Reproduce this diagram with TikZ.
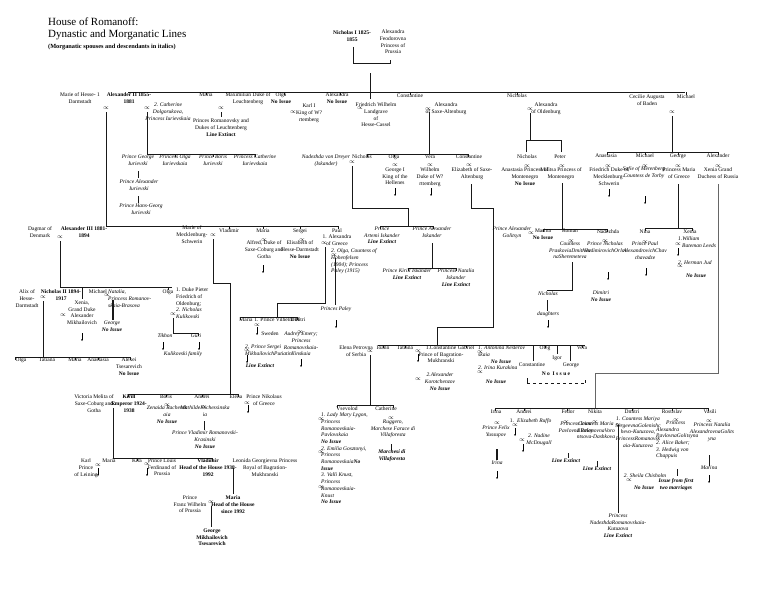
\documentclass[tikz,border=0pt]{standalone}
\usepackage{fontspec}
\setmainfont{Liberation Serif}
\usepackage{tikz}
\usetikzlibrary{arrows.meta}

\newcommand{\fs}{\fontsize{5.5}{6.7}\selectfont}
\newcommand{\mg}{$\propto$}

\tikzset{
  lbl/.style={anchor=north, yshift=2.4pt, inner sep=0pt, align=center, font=\fs},
  it/.style={lbl, font=\fs\itshape},
  bd/.style={lbl, font=\fs\bfseries},
  bi/.style={lbl, font=\fs\bfseries\itshape},
  itl/.style={it, anchor=north west, align=left},
  lbll/.style={lbl, anchor=north west, align=left},
  ttl/.style={anchor=west, inner sep=0pt, font=\fontsize{11}{13}\selectfont},
  mar/.style={inner sep=0pt, font=\fontsize{6.5}{6.5}\selectfont},
  dn/.style={-{Stealth[length=1.8pt,width=1.8pt]}, line width=0.4pt},
  ln/.style={line width=0.7pt, black!90},
}

\begin{document}
\begin{tikzpicture}[x=1pt, y=-1pt]
  \useasboundingbox (0,0) rectangle (768,594);

  % title
  \node[ttl] (title1) at (48,22) {House of Romanoff:};
  \node[ttl] (title2) at (48,35) {Dynastic and Morganatic Lines};
  \node[ttl, font=\fontsize{6.3}{7}\selectfont\bfseries] (title3) at (48,47)
    {(Morganatic spouses and descendants in italics)};

  % Nicholas I
  \node[bd] (nichI) at (352,33) {Nicholas I 1825-\\1855};
  \node[lbl] (alexF) at (393,32) {Alexandra\\Feodorovna\\Princess of\\Prussia};
  \draw[ln] (353,47) -- (353,63) -- (390,63) -- (390,60);
  \draw[ln] (370,73) -- (370,99);
  \draw[ln] (128,92) -- (685,92);

  % children of Nicholas I
  \node[lbl] (marieH) at (80,95) {Marie of Hesse- 1\\Darmstadt};
  \node[bd] (alexII) at (129,95) {Alexander II 1855-\\1881};
  \node[it] (cathD) at (168,105) {2. Catherine\\Dolgorukova,\\Princess Iurievskaia};
  \node[lbl] (mariaN) at (206,95) {Maria};
  \node[lbl] (maxL) at (248,95) {Maximilian Duke of\\Leuchtenberg};
  \node[lbl] (olgaN) at (281,95) {Olga\\\textbf{No Issue}};
  \node[lbl] (karl) at (309,106) {Karl I\\King of W?\\rtemberg};
  \node[lbl] (alexN) at (337,95) {Alexandra\\\textbf{No Issue}};
  \node[lbl] (friedW) at (376,105) {Friedrich Wilhelm\\Landgrave\\of\\Hesse-Cassel};
  \node[lbl] (constN) at (410,96) {Constantine};
  \node[lbl] (alexSA) at (446,105) {Alexandra\\of Saxe-Altenburg};
  \node[lbl] (nichN) at (517,96) {Nicholas};
  \node[lbl] (alexO) at (546,105) {Alexandra\\of Oldenburg};
  \node[lbl] (cecilie) at (647,97) {Cecilie Augusta\\of Baden};
  \node[lbl] (michN) at (686,97) {Michael};

  % Leuchtenberg
  \draw[ln] (221,112) -- (221,117);
  \node[lbl] (romLeu) at (221,121) {Princes Romanovsky and\\Dukes of Leuchtenberg\\\textbf{Line Extinct}};

  % Iurievsky
  \draw[ln] (106,112) -- (106,226);
  \draw[ln] (147,112) -- (147,154) -- (255,154);
  \node[it] (georgeI) at (138,157) {Prince George\\Iurievski};
  \node[it] (olgaI) at (175,157) {Princess Olga\\Iurievskaia};
  \node[it] (borisI) at (213,157) {Prince Boris\\Iurievski};
  \node[it] (cathI) at (255,157) {Princess Catherine\\Iurievskaia};
  \draw[ln] (138,171) -- (138,178);
  \node[it] (alexI) at (139,182) {Prince Alexander\\Iurievski};
  \draw[ln] (138,196) -- (138,203);
  \node[it] (hansI) at (141,206) {Prince Hans-Georg\\Iurievski};

  % Constantine Nikolaevich
  \draw[ln, line width=1pt] (429,112) -- (429,154);
  \draw[ln] (367,154) -- (468,154);
  \node[it] (nadD) at (326,157) {Nadezhda von Dreyer\\(Iskander)};
  \node[lbl] (nichK) at (362,157) {Nicholas};
  \node[lbl] (olgaK) at (394,157) {Olga};
  \node[lbl] (veraK) at (430,157) {Vera};
  \node[lbl] (constK) at (469,157) {Constantine};
  \node[lbl] (georgeG) at (395,170) {George I\\King of the\\Hellenes};
  \node[lbl] (wilhW) at (430,170) {Wilhelm\\Duke of W?\\rttemberg};
  \node[lbl] (elizSA) at (472,170) {Elizabeth of Saxe-\\Altenburg};
  \draw[ln] (471,184) -- (471,208) -- (493,208) -- (493,327) -- (437,327) -- (437,345);

  % Iskander
  \draw[ln] (352,166) -- (352,208) -- (408,208) -- (408,226);
  \draw[ln] (380,226) -- (433,226);
  \node[it] (artemi) at (382,229) {Prince\\Artemi Iskander\\\textbf{Line Extinct}};
  \node[it] (alexIsk) at (432,229) {Prince Alexander\\Iskander};
  \draw[ln] (432,243) -- (432,268);
  \draw[ln] (408,268) -- (456,268);
  \node[it] (kirIsk) at (407,271) {Prince Kirill Iskander\\\textbf{Line Extinct}};
  \node[it] (natIsk) at (456,271) {Princess Natalia\\Iskander\\\textbf{Line Extinct}};

  % Nicholas Nikolaevich
  \draw[ln, line width=1pt] (530,113) -- (530,140);
  \draw[ln] (526,152) -- (526,140) -- (561,140) -- (561,152);
  \node[lbl] (nichNN) at (527,157) {Nicholas};
  \node[lbl] (peterN) at (560,157) {Peter};
  \node[lbl] (anast) at (525,170) {Anastasia Princess of\\Montenegro\\\textbf{No Issue}};
  \node[lbl] (militsa) at (561,170) {Militsa Princess of\\Montenegro};
  \draw[ln] (562,183) -- (562,229);
  \draw[ln] (543,229) -- (607,229);
  \node[it] (alexGol) at (512,229) {Prince Alexander\\Golitsyn};
  \node[lbl] (marinaP) at (543,231) {Marina\\\textbf{No Issue}};
  \node[lbl] (romanP) at (570,231) {Roman};
  \node[lbl] (nadP) at (608,232) {Nadezhda};
  \node[it] (prask) at (570,244) {Countess\\PraskoviaDmitriev\\naSheremeteva};
  \node[it] (orlov) at (605,244) {Prince Nicholas\\VladimirovichOrlov};
  \draw[ln] (572,262) -- (572,290) -- (547,290);
  \node[it] (nichR) at (548,294) {Nicholas};
  \node[it] (dimR) at (601,293) {Dimitri\\\textbf{No Issue}};
  \draw[ln] (547,300) -- (547,311);
  \node[it] (daught) at (548,314) {daughters};

  % Michael Nikolaevich
  \draw[ln] (672,116) -- (672,152);
  \draw[ln] (607,152) -- (718,152);
  \node[lbl] (anastM) at (606,156) {Anastasia};
  \node[lbl] (michM) at (645,156) {Michael};
  \node[lbl] (georgeM) at (678,156) {George};
  \node[lbl] (alexM) at (718,156) {Alexander};
  \node[lbl] (friedMS) at (609,170) {Friedrich Duke of\\Mecklenburg-\\Schwerin};
  \node[it] (sofie) at (644,169) {Sofie of Merenberg\\Countess de Torby};
  \node[lbl] (mariaG) at (679,170) {Princess Maria\\of Greece};
  \node[lbl] (xeniaA) at (718,170) {Xenia Grand\\Duchess of Russia};
  \draw[ln] (678,184) -- (678,228);
  \draw[ln] (645,228) -- (692,228);
  \node[lbl] (nina) at (645,232) {Nina};
  \node[lbl] (xeniaG) at (690,232) {Xenia};
  \node[it] (paulC) at (645,244) {Prince Paul\\AlexandrovichChav\\chavadze};
  \node[itl] (leeds) at (678,239) {1.William\\\hspace*{4pt}Bateman Leeds};
  \node[itl] (jud) at (678,263) {2. Herman Jud};
  \node[bi] (noIssX) at (696,276) {No Issue};
  \draw[ln, black!60, line width=1pt] (718,184) -- (718,373) -- (595,373) -- (595,408);

  % Alexander II's children
  \draw[ln] (106,226) -- (338,226);
  \node[lbl] (dagmar) at (40,229) {Dagmar of\\Denmark};
  \node[bd] (alexIII) at (84,229) {Alexander III 1881-\\1894};
  \node[lbl] (marieM) at (192,228) {Marie of\\Mecklenburg-\\Schwerin};
  \node[lbl] (vladA) at (229,231) {Vladimir};
  \node[lbl] (mariaA) at (263,231) {Maria};
  \node[lbl] (sergeiA) at (300,231) {Sergei};
  \node[lbl] (paulA) at (337,231) {Paul};
  \node[lbl] (alfred) at (264,243) {Alfred, Duke of\\Saxe-Coburg and\\Gotha};
  \node[lbl] (elisH) at (300,243) {Elisabeth of\\Hesse-Darmstadt\\\textbf{No Issue}};
  \node[lbl] (alexGr) at (337,237) {1. Alexandra\\of Greece};
  \node[itl] (olgaP) at (331,251) {2. Olga, Countess of\\Hohenfelsen\\(1904); Princess\\Paley (1915)};
  \draw[ln] (335,258) -- (335,305);
  \node[it] (princesP) at (336,309) {Princes Paley};

  % Paul's first marriage
  \draw[ln] (325,247) -- (325,303) -- (277,303) -- (277,317);
  \draw[ln] (240,317) -- (297,317);
  \node[lbl] (mariaP) at (246,320) {Maria};
  \node[lbl] (vilh) at (277,320) {1. Prince Vilhelm of};
  \node[lbl] (dmitriP) at (298,320) {Dmitri};
  \node[lbl] (sweden) at (270,334) {Sweden};
  \node[itl] (putiatin) at (245,347) {2. Prince Sergei\\MikhailovichPutiatin};
  \node[bi] (lineExtP) at (260,366) {Line Extinct};
  \node[it] (audrey) at (301,334) {Audrey Emery;\\Princess\\Romanovskaia-\\Ilinskaia};

  % Alexander III
  \draw[ln] (60,241) -- (60,287) -- (172,287);
  \node[lbl] (alix) at (27,292) {Alix of\\Hesse-\\Darmstadt};
  \node[bd] (nichII) at (61,292) {Nicholas II 1894-\\1917};
  \node[lbl] (michIII) at (98,292) {Michael};
  \node[itl] (natalia) at (108,292) {Natalia,\\Princess Romanov-\\skaia-Brasova};
  \node[lbl] (olgaIII) at (168,292) {Olga};
  \node[lbll] (duke) at (176,290) {1. Duke Pieter\\Friedrich of\\Oldenburg;\\\textit{2. Nicholas}\\\textit{Kulikovski}};
  \draw[ln] (82,287) -- (82,299);
  \node[lbl] (xeniaIII) at (82,303) {Xenia,\\Grand Duke\\Alexander\\Mikhailovich};
  \draw[ln, line width=1.1pt] (113,300) -- (113,320);
  \node[it] (georgeB) at (112,323) {George\\\textbf{No Issue}};
  \draw[ln] (43,301) -- (43,357);
  \draw[ln] (15,357) -- (130,357);
  \node[lbl] (olgaII) at (21,360) {Olga};
  \node[lbl] (tatII) at (47,360) {Tatiana};
  \node[lbl] (mariaII) at (75,360) {Maria};
  \node[lbl] (anastII) at (98,360) {Anastasia};
  \node[lbl] (alexei) at (129,360) {Alexei\\Tsesarevich\\\textbf{No Issue}};
  \draw[ln] (173,318) -- (173,333) -- (198,333);
  \node[it] (tikhon) at (165,336) {Tikhon};
  \node[it] (guri) at (196,336) {Guri};
  \node[it] (kulfam) at (183,354) {Kulikovski family};

  % Vladimir Alexandrovich
  \draw[ln] (213,239) -- (213,283) -- (230,283) -- (230,394);
  \draw[ln] (128,394) -- (238,394);
  \node[lbl] (victoria) at (94,397) {Victoria Melita of\\Saxe-Coburg and\\Gotha};
  \node[bd] (kirill) at (129,397) {Kirill\\Emperor 1924-\\1938};
  \node[lbl] (borisV) at (166,397) {Boris};
  \node[lbl] (andreiV) at (202,397) {Andrei};
  \node[lbl] (elenaV) at (236,397) {Elena};
  \node[lbl] (nikolaus) at (264,397) {Prince Nikolaus\\of Greece};
  \node[it] (zenaida) at (167,408) {Zenaida Rachevsk\\aia\\\textbf{No Issue}};
  \node[it] (mathilde) at (205,408) {MathildeKschessinska\\ia};
  \draw[ln] (204,421) -- (204,430);
  \node[it] (vladRK) at (205,433) {Prince Vladimir Romanovski-\\Krasinski\\\textbf{No Issue}};

  % Kirill
  \draw[ln] (113,408) -- (113,458) -- (212,458);
  \node[lbl] (karlL) at (86,461) {Karl\\Prince\\of Leining};
  \node[lbl] (mariaK) at (109,461) {Maria};
  \node[lbl] (kira) at (137,461) {Kira};
  \node[lbl] (louis) at (162,461) {Prince Louis\\Ferdinand of\\Prussia};
  \node[bd] (vladK) at (208,461) {Vladimir\\Head of the House 1938-\\1992};
  \node[lbl] (leonida) at (265,461) {Leonida Georgievna Princess\\Royal of Bagration-\\Mukhranski};
  \draw[ln] (233,468) -- (233,494);
  \node[bd] (mariaV) at (233,498) {Maria\\Head of the House\\since 1992};
  \node[lbl] (franz) at (190,498) {Prince\\Franz Wilhelm\\of Prussia};
  \draw[ln] (211,506) -- (211,527);
  \node[bd] (georgeT) at (212,531) {George\\Mikhailovich\\Tsesarevich};

  % Constantine Konstantinovich
  \draw[ln] (378,345) -- (585,345);
  \node[lbl] (elenaS) at (356,348) {Elena Petrovna\\of Serbia};
  \node[lbl] (ioann) at (383,348) {Ioann};
  \node[lbl] (tatK) at (405,348) {Tatiana};
  \node[lbl] (const1) at (441,348) {1.Constantine\\Prince of Bagration-\\Mukhranski};
  \node[it] (alexKor) at (440,375) {2.Alexander\\Korotchenzov\\\textbf{No Issue}};
  \node[lbl] (gabriel) at (466,348) {Gabriel};
  \node[itl] (antonina) at (478,348) {1. Antonina Nesterov\\skaia};
  \node[bi] (noIssA) at (501,362) {No Issue};
  \node[itl] (irinaK) at (478,368) {2. Irina Kurakina};
  \node[bi] (noIssI) at (496,382) {No Issue};
  \draw[ln] (533,345) -- (533,361);
  \draw[ln] (557,345) -- (557,354);
  \draw[ln] (570,345) -- (570,361);
  \node[lbl] (olegC) at (545,348) {Oleg};
  \node[lbl] (veraC) at (582,348) {Vera};
  \node[lbl] (igorC) at (557,358) {Igor};
  \node[lbl] (constC) at (532,365) {Constantine};
  \node[lbl] (georgeC) at (571,365) {George};
  \node[bd] (noIssC) at (556,374) {N o\ \ I s s u e};
  \draw[ln] (527,378) -- (527,383);
  \draw[ln, dashed, line width=0.8pt] (527,383) -- (585,383);
  \draw[ln] (585,380) -- (585,383);

  % Ioann's children
  \draw[ln] (370,355) -- (370,405);
  \draw[ln] (337,405) -- (393,405);
  \node[lbl] (vsev) at (347,409) {Vsevolod};
  \node[lbl] (cathC) at (386,409) {Catherine};
  \node[itl] (vsevSp) at (321,415) {1. Lady Mary Lygon,\\Princess\\Romanovskaia-\\Pavlovskaia\\\textbf{No Issue}\\2. Emilia Gosztonyi,\\Princess\\Romanovskaia\textbf{No}\\\textbf{Issue}\\3. Valli Knust,\\Princess\\Romanovskaia-\\Knust\\\textbf{No Issue}};
  \node[it] (ruggero) at (393,422) {Ruggero,\\Marchese Farace di\\Villaforesta};
  \draw[ln] (391,444) -- (391,450);
  \node[bi] (marchesi) at (392,452) {Marchesi di\\Villaforesta};

  % Xenia Alexandrovna's children
  \draw[ln] (495,408) -- (708,408);
  \node[lbl] (irinaX) at (496,412) {Irina};
  \node[lbl] (andreiX) at (524,412) {Andrei};
  \node[lbl] (fedorX) at (568,412) {Fedor};
  \node[lbl] (nikitaX) at (595,412) {Nikita};
  \node[lbl] (dmitriX) at (632,412) {Dmitri};
  \node[lbl] (rostX) at (672,412) {Rostislav};
  \node[lbl] (vasiliX) at (710,412) {Vasili};
  \node[it] (felix) at (496,428) {Prince Felix\\Yussupov};
  \draw[ln, line width=1.1pt] (497,449) -- (497,460);
  \node[it] (irinaY) at (497,463) {Irina};
  \node[lbl] (andr1) at (512,421) {1.};
  \node[itl] (ruffo) at (517,421) {Elizabeth Ruffo};
  \node[it] (nadine) at (539,436) {2. Nadine\\McDougall};
  \node[it] (irinaP) at (576,424) {Princess Irina\\Pavlovna Paley};
  \draw[ln] (568,453) -- (568,458);
  \node[bi] (lineExtF) at (566,461) {Line Extinct};
  \node[it] (mariaVD) at (596,424) {Countess Maria\\IllarionovnaVoro\\ntsova-Dashkova};
  \draw[ln] (597,461) -- (597,467);
  \node[bi] (lineExtN) at (597,469) {Line Extinct};
  \node[it] (mariaGK) at (638,419) {1. Countess Mariya\\SergeevnaGolenishc\\hevo-Kutuzova,\\PrincessRomanovsk\\aia-Kutuzova};
  \draw[ln] (618,425) -- (618,513);
  \node[it] (nadRK) at (618,516) {Princess\\NadezhdaRomanovskaia-\\Kutuzova\\\textbf{Line Extinct}};
  \node[it] (sheila) at (645,476) {2. Sheila Chisholm};
  \node[bi] (noIssD) at (644,488) {No Issue};
  \node[itl] (rostSp) at (656,423) {\hspace*{10pt}Princess\\Alexandra\\PavlovnaGolitsyna\\2. Alice Baker;\\3. Hedwig von\\Chappuis};
  \draw[ln] (677,469) -- (677,476);
  \node[bi] (issueF) at (676,481) {Issue from first\\two marriages};
  \node[it] (natG) at (712,425) {Princess Natalia\\AlexandrovnaGolits\\yna};
  \draw[ln] (709,455) -- (709,466);
  \node[it] (marinaV) at (709,468) {Marina};

  % small ticks from the bars
  \foreach \x/\y in {206/92, 284/92, 340/92, 410/92, 517/92, 686/92,
                     175/154, 213/154, 255/154, 367/154, 394/154, 468/154,
                     607/152, 645/152, 678/152, 718/152,
                     229/226, 263/226, 300/226, 338/226,
                     168/287, 15/357, 75/357, 98/357, 130/357,
                     128/394, 166/394, 202/394, 238/394, 137/458, 212/458,
                     240/317, 297/317, 543/229, 607/229, 645/228, 692/228,
                     380/226, 433/226, 408/268, 456/268, 198/333,
                     383/345, 405/345, 466/345, 545/345, 582/345, 337/405, 393/405,
                     495/408, 524/408, 567/408, 632/408, 672/408, 708/408}
    \draw[ln] (\x,\y) -- ++(0,3);

  % marriages
  \foreach \x/\y [count=\i] in {106/108, 147/108, 221/108, 293/112, 360/108, 428/109, 530/109, 672/112,
                     352/162, 395/165, 430/165, 469/165, 527/166, 562/166, 608/166, 645/166, 678/166, 718/166,
                     60/237, 213/235, 264/240, 302/240, 324/243, 334/255, 531/233, 571/241, 605/241, 645/242, 678/244, 680/266,
                     43/297, 63/315, 107/295, 173/314, 257/325, 247/350, 300/332,
                     370/351, 418/351, 418/379, 480/352, 480/372,
                     113/404, 167/405, 204/407, 247/403, 98/465, 147/464, 211/502,
                     321/419, 321/452, 321/487, 391/418,
                     497/423, 515/425, 522/440, 566/422, 595/422, 618/425, 629/480, 676/420, 709/421}
    \node[mar] (m\i) at (\x,\y) {\mg};

  % descendants go on
  \foreach \x/\y in {395/192, 431/192, 609/193, 645/200, 263/269, 82/337, 163/346, 199/346,
                     336/324, 257/331, 247/359, 301/363, 548/324, 608/276, 646/272, 678/252,
                     418/358, 248/409, 98/472, 147/472, 497/475, 515/432, 523/448, 709/479}
    \draw[dn] (\x,\y-4) -- (\x,\y+4);

\end{tikzpicture}
\end{document}
